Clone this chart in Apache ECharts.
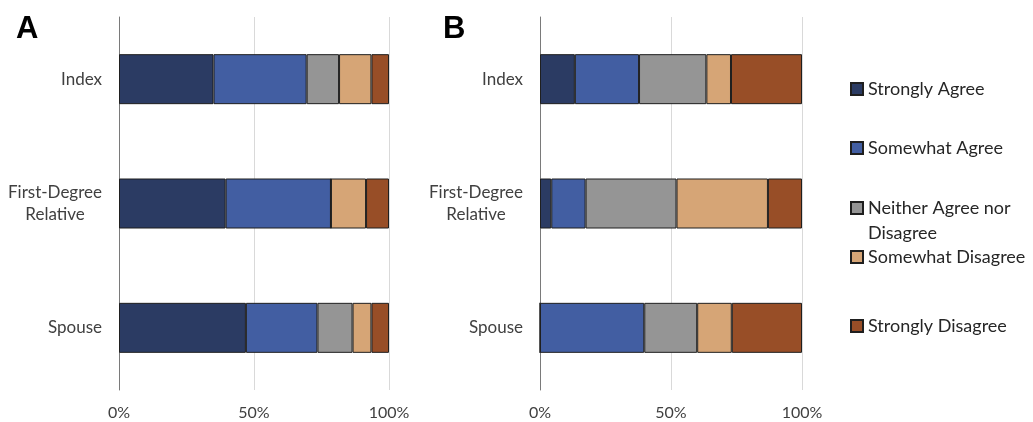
<!DOCTYPE html>
<html>
<head>
<meta charset="utf-8">
<script src="https://cdn.jsdelivr.net/npm/echarts@6/dist/echarts.min.js"></script>
<style>
html, body { margin: 0; padding: 0; background: #fff; }
#main { width: 1033px; height: 422px; }
</style>
</head>
<body>
<div id="main"></div>
<script>
var categories = ['Index', 'First-Degree Relative', 'Spouse'];
var responses = ['Strongly Agree', 'Somewhat Agree', 'Neither Agree nor Disagree', 'Somewhat Disagree', 'Strongly Disagree'];
var colors = ['#2b3b63', '#425ea2', '#959595', '#d6a576', '#984e27'];
var xTicks = [0, 50, 100];

// panel A, per response: Index, First-Degree Relative, Spouse
var stronglyAgreeA = [35, 39.5, 47];
var somewhatAgreeA = [34.5, 39, 26.5];
var neitherA = [12, 0, 13];
var somewhatDisagreeA = [12, 13, 7];
var stronglyDisagreeA = [6.5, 8.5, 6.5];

// panel B
var stronglyAgreeB = [13.3, 4.3, 0];
var somewhatAgreeB = [24.5, 13.1, 39.8];
var neitherB = [25.7, 34.7, 20.2];
var somewhatDisagreeB = [9.4, 34.9, 13.2];
var stronglyDisagreeB = [27.1, 13, 26.8];

var panelA = [stronglyAgreeA, somewhatAgreeA, neitherA, somewhatDisagreeA, stronglyDisagreeA];
var panelB = [stronglyAgreeB, somewhatAgreeB, neitherB, somewhatDisagreeB, stronglyDisagreeB];

var font = 'Lato, "Open Sans", sans-serif';
var textColor = '#404040';

function xAxisFor(i) {
    return {
        type: 'value', gridIndex: i, min: xTicks[0], max: xTicks[xTicks.length - 1], interval: 50,
        axisLine: { show: false }, axisTick: { show: false },
        axisLabel: { formatter: '{value}%', color: textColor, fontSize: 16, fontFamily: font, margin: 15 },
        splitLine: { lineStyle: { color: '#d9d9d9', width: 1 } }
    };
}
function yAxisFor(i) {
    return {
        type: 'category', gridIndex: i, data: categories, inverse: true,
        axisLine: { lineStyle: { color: '#7a7a7a', width: 1 } }, axisTick: { show: false },
        axisLabel: {
            color: textColor, fontSize: 17, fontFamily: font, margin: 17, lineHeight: 22,
            formatter: function (v) {
                return v.indexOf('First') === 0 ? '{c|First-Degree}\n{c|Relative}' : v;
            },
            rich: { c: { align: 'center', color: textColor, fontSize: 17, fontFamily: font, lineHeight: 22 } }
        }
    };
}

var series = [];
[panelA, panelB].forEach(function (panel, p) {
    panel.forEach(function (vals, k) {
        series.push({
            name: responses[k], type: 'bar', stack: p === 0 ? 'A' : 'B',
            xAxisIndex: p, yAxisIndex: p, barWidth: 50, data: vals,
            itemStyle: { color: colors[k], borderColor: '#1f1f1f', borderWidth: 1 },
            emphasis: { disabled: true }
        });
    });
});

// vertical centre of each legend icon
var legendCentres = [89, 148, 208, 257, 326];
var legends = responses.map(function (r, k) {
    var twoLine = k === 2;
    return {
        data: [r], left: 845, top: legendCentres[k] - (twoLine ? 37.5 : 12.5) - 5, orient: 'vertical',
        icon: 'rect', itemWidth: 12, itemHeight: 12, selectedMode: false,
        // blank first line keeps the icon level with the first text line
        formatter: function (n) { return twoLine ? ' \nNeither Agree nor\nDisagree' : n; },
        textStyle: { color: '#262626', fontSize: 18, fontFamily: font, lineHeight: 25 }
    };
});

var chart = echarts.init(document.getElementById('main'));
chart.setOption({
    animation: false,
    title: [
        { text: 'A', left: 11, top: 9, textStyle: { fontSize: 31, fontWeight: 'bold', color: '#000', fontFamily: '"Liberation Sans", Arial, sans-serif' } },
        { text: 'B', left: 438, top: 9, textStyle: { fontSize: 31, fontWeight: 'bold', color: '#000', fontFamily: '"Liberation Sans", Arial, sans-serif' } }
    ],
    legend: legends,
    grid: [
        { left: 119, width: 270, top: 17, height: 373 },
        { left: 540, width: 262, top: 17, height: 373 }
    ],
    xAxis: [xAxisFor(0), xAxisFor(1)],
    yAxis: [yAxisFor(0), yAxisFor(1)],
    series: series
});
</script>
</body>
</html>
